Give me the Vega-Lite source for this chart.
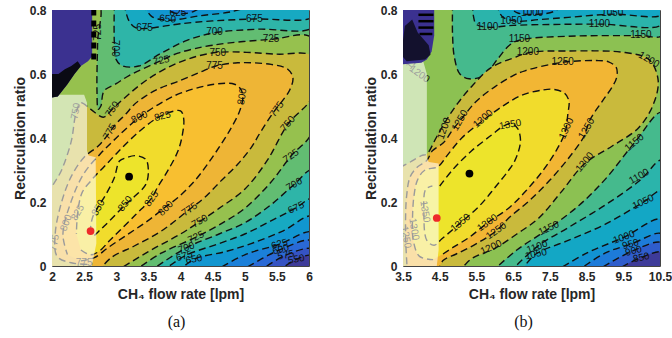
{
"$schema":"https://vega.github.io/schema/vega-lite/v6.json",
"padding":{"left":12,"top":3,"right":2,"bottom":4},
"spacing":50,
"config":{
 "view":{"stroke":"#444","strokeWidth":1},
 "axis":{"grid":false,"ticks":false,"domain":false,"labelFont":"Liberation Sans","labelFontSize":12,"labelFontWeight":"bold","labelColor":"#262626","titleFont":"Liberation Sans","titleFontSize":14,"titleFontWeight":"bold","titleColor":"#262626","labelOverlap":false,"labelFlush":false},
 "axisX":{"labelPadding":5,"titlePadding":5},
 "axisY":{"labelPadding":6,"titlePadding":2}
},
"resolve":{"scale":{"color":"independent"}},
"datasets":{
"pa":[
{"s":"base","b":"a700","x":1.95,"y":-0.02},{"s":"base","b":"a700","x":6.05,"y":-0.02},{"s":"base","b":"a700","x":6.05,"y":0.82},{"s":"base","b":"a700","x":1.95,"y":0.82},
{"s":"t700","b":"a675","x":2.97,"y":0.82},{"s":"t700","b":"a675","x":2.97,"y":0.7},{"s":"t700","b":"a675","x":3.0,"y":0.645},{"s":"t700","b":"a675","x":3.1,"y":0.625},{"s":"t700","b":"a675","x":3.35,"y":0.625},{"s":"t700","b":"a675","x":3.7,"y":0.665},{"s":"t700","b":"a675","x":4.1,"y":0.705},{"s":"t700","b":"a675","x":4.53,"y":0.729},{"s":"t700","b":"a675","x":5.2,"y":0.74},{"s":"t700","b":"a675","x":6.05,"y":0.745},{"s":"t700","b":"a675","x":6.05,"y":0.82},
{"s":"u700","b":"a675","x":3.5,"y":-0.02},{"s":"u700","b":"a675","x":4.09,"y":0.057},{"s":"u700","b":"a675","x":4.6,"y":0.1},{"s":"u700","b":"a675","x":5.0,"y":0.135},{"s":"u700","b":"a675","x":5.4,"y":0.19},{"s":"u700","b":"a675","x":5.77,"y":0.255},{"s":"u700","b":"a675","x":6.05,"y":0.3},{"s":"u700","b":"a675","x":6.05,"y":-0.02},
{"s":"t675","b":"a650","x":3.12,"y":0.82},{"s":"t675","b":"a650","x":3.2,"y":0.765},{"s":"t675","b":"a650","x":3.3,"y":0.745},{"s":"t675","b":"a650","x":3.44,"y":0.742},{"s":"t675","b":"a650","x":3.7,"y":0.748},{"s":"t675","b":"a650","x":4.0,"y":0.757},{"s":"t675","b":"a650","x":4.5,"y":0.766},{"s":"t675","b":"a650","x":5.15,"y":0.772},{"s":"t675","b":"a650","x":6.05,"y":0.778},{"s":"t675","b":"a650","x":6.05,"y":0.82},
{"s":"u675","b":"a650","x":3.7,"y":-0.02},{"s":"u675","b":"a650","x":4.06,"y":0.031},{"s":"u675","b":"a650","x":4.6,"y":0.07},{"s":"u675","b":"a650","x":5.0,"y":0.1},{"s":"u675","b":"a650","x":5.4,"y":0.14},{"s":"u675","b":"a650","x":5.8,"y":0.182},{"s":"u675","b":"a650","x":6.05,"y":0.21},{"s":"u675","b":"a650","x":6.05,"y":-0.02},
{"s":"t650","b":"a625","x":3.42,"y":0.82},{"s":"t650","b":"a625","x":3.55,"y":0.78},{"s":"t650","b":"a625","x":3.8,"y":0.768},{"s":"t650","b":"a625","x":4.3,"y":0.782},{"s":"t650","b":"a625","x":4.8,"y":0.795},{"s":"t650","b":"a625","x":5.2,"y":0.82},
{"s":"u650","b":"a625","x":3.95,"y":-0.02},{"s":"u650","b":"a625","x":4.21,"y":0.021},{"s":"u650","b":"a625","x":4.7,"y":0.045},{"s":"u650","b":"a625","x":5.1,"y":0.07},{"s":"u650","b":"a625","x":5.6,"y":0.11},{"s":"u650","b":"a625","x":6.05,"y":0.155},{"s":"u650","b":"a625","x":6.05,"y":-0.02},
{"s":"t625","b":"a600","x":3.72,"y":0.82},{"s":"t625","b":"a600","x":3.85,"y":0.795},{"s":"t625","b":"a600","x":4.0,"y":0.788},{"s":"t625","b":"a600","x":4.2,"y":0.795},{"s":"t625","b":"a600","x":4.4,"y":0.82},
{"s":"u625","b":"a600","x":4.5,"y":-0.02},{"s":"u625","b":"a600","x":5.0,"y":0.035},{"s":"u625","b":"a600","x":5.54,"y":0.068},{"s":"u625","b":"a600","x":6.05,"y":0.105},{"s":"u625","b":"a600","x":6.05,"y":-0.02},
{"s":"u600","b":"a575","x":4.9,"y":-0.02},{"s":"u600","b":"a575","x":5.56,"y":0.052},{"s":"u600","b":"a575","x":6.05,"y":0.078},{"s":"u600","b":"a575","x":6.05,"y":-0.02},
{"s":"u575","b":"a550","x":5.2,"y":-0.02},{"s":"u575","b":"a550","x":5.64,"y":0.034},{"s":"u575","b":"a550","x":6.05,"y":0.052},{"s":"u575","b":"a550","x":6.05,"y":-0.02},
{"s":"u550","b":"a525","x":5.5,"y":-0.02},{"s":"u550","b":"a525","x":5.8,"y":0.021},{"s":"u550","b":"a525","x":6.05,"y":0.032},{"s":"u550","b":"a525","x":6.05,"y":-0.02},
{"s":"p725","b":"a725","x":3.25,"y":-0.02},{"s":"p725","b":"a725","x":3.7,"y":0.04},{"s":"p725","b":"a725","x":4.24,"y":0.09},{"s":"p725","b":"a725","x":4.7,"y":0.14},{"s":"p725","b":"a725","x":5.0,"y":0.18},{"s":"p725","b":"a725","x":5.4,"y":0.26},{"s":"p725","b":"a725","x":5.72,"y":0.344},{"s":"p725","b":"a725","x":6.05,"y":0.42},{"s":"p725","b":"a725","x":6.05,"y":0.712},{"s":"p725","b":"a725","x":5.41,"y":0.708},{"s":"p725","b":"a725","x":4.5,"y":0.69},{"s":"p725","b":"a725","x":3.96,"y":0.665},{"s":"p725","b":"a725","x":3.62,"y":0.635},{"s":"p725","b":"a725","x":3.2,"y":0.595},{"s":"p725","b":"a725","x":3.0,"y":0.57},{"s":"p725","b":"a725","x":2.81,"y":0.547},{"s":"p725","b":"a725","x":2.76,"y":0.5},{"s":"p725","b":"a725","x":2.72,"y":0.49},{"s":"p725","b":"a725","x":2.7,"y":0.55},{"s":"p725","b":"a725","x":2.71,"y":0.7},{"s":"p725","b":"a725","x":2.72,"y":0.82},{"s":"p725","b":"a725","x":1.95,"y":0.82},{"s":"p725","b":"a725","x":1.95,"y":-0.02},
{"s":"p750","b":"a750","x":2.97,"y":-0.02},{"s":"p750","b":"a750","x":3.5,"y":0.045},{"s":"p750","b":"a750","x":4.0,"y":0.1},{"s":"p750","b":"a750","x":4.27,"y":0.135},{"s":"p750","b":"a750","x":4.6,"y":0.18},{"s":"p750","b":"a750","x":5.0,"y":0.24},{"s":"p750","b":"a750","x":5.35,"y":0.33},{"s":"p750","b":"a750","x":5.67,"y":0.443},{"s":"p750","b":"a750","x":6.05,"y":0.53},{"s":"p750","b":"a750","x":6.05,"y":0.655},{"s":"p750","b":"a750","x":5.5,"y":0.662},{"s":"p750","b":"a750","x":4.55,"y":0.667},{"s":"p750","b":"a750","x":4.0,"y":0.638},{"s":"p750","b":"a750","x":3.5,"y":0.585},{"s":"p750","b":"a750","x":3.1,"y":0.52},{"s":"p750","b":"a750","x":2.94,"y":0.49},{"s":"p750","b":"a750","x":2.8,"y":0.465},{"s":"p750","b":"a750","x":2.6,"y":0.49},{"s":"p750","b":"a750","x":2.45,"y":0.51},{"s":"p750","b":"a750","x":2.37,"y":0.474},{"s":"p750","b":"a750","x":2.3,"y":0.39},{"s":"p750","b":"a750","x":2.15,"y":0.3},{"s":"p750","b":"a750","x":1.95,"y":0.22},{"s":"p750","b":"a750","x":1.95,"y":-0.02},
{"s":"p775","b":"a775","x":2.71,"y":-0.02},{"s":"p775","b":"a775","x":2.92,"y":0.026},{"s":"p775","b":"a775","x":3.28,"y":0.0625},{"s":"p775","b":"a775","x":3.7,"y":0.109},{"s":"p775","b":"a775","x":4.14,"y":0.177},{"s":"p775","b":"a775","x":4.37,"y":0.213},{"s":"p775","b":"a775","x":4.63,"y":0.266},{"s":"p775","b":"a775","x":4.89,"y":0.318},{"s":"p775","b":"a775","x":5.1,"y":0.37},{"s":"p775","b":"a775","x":5.25,"y":0.42},{"s":"p775","b":"a775","x":5.46,"y":0.484},{"s":"p775","b":"a775","x":5.6,"y":0.52},{"s":"p775","b":"a775","x":5.7,"y":0.55},{"s":"p775","b":"a775","x":5.75,"y":0.588},{"s":"p775","b":"a775","x":5.67,"y":0.615},{"s":"p775","b":"a775","x":5.41,"y":0.63},{"s":"p775","b":"a775","x":4.89,"y":0.635},{"s":"p775","b":"a775","x":4.55,"y":0.625},{"s":"p775","b":"a775","x":4.3,"y":0.605},{"s":"p775","b":"a775","x":4.0,"y":0.58},{"s":"p775","b":"a775","x":3.64,"y":0.552},{"s":"p775","b":"a775","x":3.45,"y":0.53},{"s":"p775","b":"a775","x":3.28,"y":0.505},{"s":"p775","b":"a775","x":3.15,"y":0.475},{"s":"p775","b":"a775","x":3.0,"y":0.445},{"s":"p775","b":"a775","x":2.85,"y":0.405},{"s":"p775","b":"a775","x":2.72,"y":0.375},{"s":"p775","b":"a775","x":2.5,"y":0.34},{"s":"p775","b":"a775","x":2.3,"y":0.28},{"s":"p775","b":"a775","x":2.15,"y":0.2},{"s":"p775","b":"a775","x":2.05,"y":0.1},{"s":"p775","b":"a775","x":2.08,"y":0.03},{"s":"p775","b":"a775","x":2.3,"y":0.01},{"s":"p775","b":"a775","x":2.6,"y":0.005},
{"s":"p800","b":"a800","x":2.45,"y":0.016},{"s":"p800","b":"a800","x":2.66,"y":0.026},{"s":"p800","b":"a800","x":2.87,"y":0.057},{"s":"p800","b":"a800","x":3.18,"y":0.099},{"s":"p800","b":"a800","x":3.49,"y":0.141},{"s":"p800","b":"a800","x":3.75,"y":0.182},{"s":"p800","b":"a800","x":3.96,"y":0.214},{"s":"p800","b":"a800","x":4.22,"y":0.266},{"s":"p800","b":"a800","x":4.42,"y":0.318},{"s":"p800","b":"a800","x":4.63,"y":0.38},{"s":"p800","b":"a800","x":4.79,"y":0.432},{"s":"p800","b":"a800","x":4.92,"y":0.484},{"s":"p800","b":"a800","x":4.97,"y":0.526},{"s":"p800","b":"a800","x":4.94,"y":0.552},{"s":"p800","b":"a800","x":4.84,"y":0.568},{"s":"p800","b":"a800","x":4.53,"y":0.568},{"s":"p800","b":"a800","x":4.0,"y":0.54},{"s":"p800","b":"a800","x":3.7,"y":0.51},{"s":"p800","b":"a800","x":3.36,"y":0.465},{"s":"p800","b":"a800","x":3.0,"y":0.4},{"s":"p800","b":"a800","x":2.75,"y":0.35},{"s":"p800","b":"a800","x":2.5,"y":0.29},{"s":"p800","b":"a800","x":2.3,"y":0.203},{"s":"p800","b":"a800","x":2.17,"y":0.099},{"s":"p800","b":"a800","x":2.24,"y":0.036},
{"s":"p825","b":"a825","x":2.45,"y":0.05},{"s":"p825","b":"a825","x":2.6,"y":0.035},{"s":"p825","b":"a825","x":2.74,"y":0.047},{"s":"p825","b":"a825","x":2.89,"y":0.078},{"s":"p825","b":"a825","x":3.0,"y":0.1},{"s":"p825","b":"a825","x":3.3,"y":0.16},{"s":"p825","b":"a825","x":3.55,"y":0.212},{"s":"p825","b":"a825","x":3.64,"y":0.245},{"s":"p825","b":"a825","x":3.8,"y":0.297},{"s":"p825","b":"a825","x":3.96,"y":0.359},{"s":"p825","b":"a825","x":4.03,"y":0.411},{"s":"p825","b":"a825","x":4.05,"y":0.46},{"s":"p825","b":"a825","x":4.0,"y":0.485},{"s":"p825","b":"a825","x":3.8,"y":0.478},{"s":"p825","b":"a825","x":3.6,"y":0.458},{"s":"p825","b":"a825","x":3.3,"y":0.41},{"s":"p825","b":"a825","x":3.02,"y":0.355},{"s":"p825","b":"a825","x":2.81,"y":0.31},{"s":"p825","b":"a825","x":2.71,"y":0.29},{"s":"p825","b":"a825","x":2.6,"y":0.265},{"s":"p825","b":"a825","x":2.47,"y":0.23},{"s":"p825","b":"a825","x":2.4,"y":0.167},{"s":"p825","b":"a825","x":2.38,"y":0.1},
{"s":"p850","b":"a850","x":2.66,"y":0.095},{"s":"p850","b":"a850","x":2.76,"y":0.115},{"s":"p850","b":"a850","x":2.89,"y":0.14},{"s":"p850","b":"a850","x":3.15,"y":0.193},{"s":"p850","b":"a850","x":3.3,"y":0.22},{"s":"p850","b":"a850","x":3.46,"y":0.255},{"s":"p850","b":"a850","x":3.5,"y":0.297},{"s":"p850","b":"a850","x":3.46,"y":0.333},{"s":"p850","b":"a850","x":3.3,"y":0.345},{"s":"p850","b":"a850","x":3.15,"y":0.338},{"s":"p850","b":"a850","x":3.05,"y":0.328},{"s":"p850","b":"a850","x":2.97,"y":0.276},{"s":"p850","b":"a850","x":2.84,"y":0.224},{"s":"p850","b":"a850","x":2.71,"y":0.182},{"s":"p850","b":"a850","x":2.63,"y":0.151},{"s":"p850","b":"a850","x":2.6,"y":0.12}
],
"la":[
{"t":"625","x":3.96,"y":0.792,"a":0},{"t":"650","x":3.8,"y":0.772,"a":5},{"t":"675","x":3.44,"y":0.745,"a":0},{"t":"675","x":5.15,"y":0.773,"a":0},
{"t":"700","x":4.53,"y":0.73,"a":0},{"t":"700","x":2.985,"y":0.68,"a":90},{"t":"725","x":5.41,"y":0.709,"a":0},{"t":"725","x":3.7,"y":0.642,"a":-12},{"t":"725","x":2.715,"y":0.73,"a":-90},
{"t":"750","x":4.58,"y":0.667,"a":0},{"t":"750","x":2.94,"y":0.49,"a":-55},{"t":"750","x":5.67,"y":0.445,"a":-50},{"t":"750","x":4.3,"y":0.14,"a":-30},
{"t":"775","x":4.53,"y":0.625,"a":0},{"t":"775","x":2.9,"y":0.42,"a":-60},{"t":"775","x":5.5,"y":0.49,"a":-55},{"t":"775","x":4.14,"y":0.177,"a":-35},
{"t":"800","x":3.36,"y":0.465,"a":-25},{"t":"800","x":4.96,"y":0.53,"a":-80},{"t":"800","x":3.77,"y":0.18,"a":-45},
{"t":"825","x":3.72,"y":0.468,"a":-15},{"t":"825","x":3.55,"y":0.21,"a":-55},
{"t":"850","x":2.72,"y":0.182,"a":-60},{"t":"850","x":3.14,"y":0.195,"a":-50},
{"t":"725","x":4.24,"y":0.09,"a":-25},{"t":"700","x":4.09,"y":0.057,"a":-20},{"t":"675","x":4.06,"y":0.031,"a":-15},{"t":"650","x":4.21,"y":0.021,"a":-10},
{"t":"725","x":5.72,"y":0.344,"a":-35},{"t":"700","x":5.77,"y":0.255,"a":-30},{"t":"675","x":5.8,"y":0.182,"a":-25},{"t":"625","x":5.54,"y":0.068,"a":-15},{"t":"600","x":5.56,"y":0.052,"a":-15},{"t":"575","x":5.64,"y":0.034,"a":-12},{"t":"550","x":5.8,"y":0.021,"a":-10},
{"t":"750","x":2.37,"y":0.484,"a":-80},{"t":"775","x":2.04,"y":0.073,"a":-80},{"t":"775","x":2.5,"y":0.008,"a":0},{"t":"800","x":2.22,"y":0.135,"a":-70},{"t":"825","x":2.4,"y":0.167,"a":-60}
],
"ova":[{"x":1.95,"y":-0.02},{"x":1.95,"y":0.535},{"x":2.5,"y":0.535},{"x":2.545,"y":0.51},{"x":2.545,"y":0.36},{"x":2.57,"y":0.345},{"x":2.68,"y":0.34},{"x":2.69,"y":0.07},{"x":2.6,"y":-0.02}],
"nva":[{"x":1.95,"y":0.82},{"x":2.625,"y":0.82},{"x":2.625,"y":0.655},{"x":2.56,"y":0.64},{"x":2.45,"y":0.625},{"x":2.35,"y":0.6},{"x":2.24,"y":0.568},{"x":2.09,"y":0.53},{"x":1.95,"y":0.525}],
"bka":[{"x":1.95,"y":0.525},{"x":2.09,"y":0.53},{"x":2.24,"y":0.568},{"x":2.35,"y":0.6},{"x":2.45,"y":0.625},{"x":2.4,"y":0.64},{"x":2.3,"y":0.625},{"x":2.2,"y":0.615},{"x":2.1,"y":0.6},{"x":1.95,"y":0.6}],
"rka":[{"x":2.65,"y":0.645,"y2":0.8}],
"dka":[{"x":3.2,"y":0.279}],
"dra":[{"x":2.6,"y":0.109}],
"pb":[
{"s":"base","b":"b1150","x":3.45,"y":-0.02},{"s":"base","b":"b1150","x":10.55,"y":-0.02},{"s":"base","b":"b1150","x":10.55,"y":0.82},{"s":"base","b":"b1150","x":3.45,"y":0.82},
{"s":"t1150","b":"b1100","x":4.85,"y":0.82},{"s":"t1150","b":"b1100","x":4.85,"y":0.72},{"s":"t1150","b":"b1100","x":4.9,"y":0.652},{"s":"t1150","b":"b1100","x":5.05,"y":0.6},{"s":"t1150","b":"b1100","x":5.3,"y":0.585},{"s":"t1150","b":"b1100","x":5.7,"y":0.595},{"s":"t1150","b":"b1100","x":6.1,"y":0.65},{"s":"t1150","b":"b1100","x":6.4,"y":0.69},{"s":"t1150","b":"b1100","x":6.67,"y":0.706},{"s":"t1150","b":"b1100","x":8.0,"y":0.718},{"s":"t1150","b":"b1100","x":9.98,"y":0.72},{"s":"t1150","b":"b1100","x":10.55,"y":0.72},{"s":"t1150","b":"b1100","x":10.55,"y":0.82},
{"s":"u1150","b":"b1100","x":5.9,"y":-0.02},{"s":"u1150","b":"b1100","x":6.6,"y":0.05},{"s":"u1150","b":"b1100","x":7.46,"y":0.116},{"s":"u1150","b":"b1100","x":8.3,"y":0.19},{"s":"u1150","b":"b1100","x":9.0,"y":0.27},{"s":"u1150","b":"b1100","x":9.81,"y":0.386},{"s":"u1150","b":"b1100","x":10.55,"y":0.48},{"s":"u1150","b":"b1100","x":10.55,"y":-0.02},
{"s":"t1100","b":"b1050","x":5.4,"y":0.82},{"s":"t1100","b":"b1050","x":5.42,"y":0.78},{"s":"t1100","b":"b1050","x":5.5,"y":0.755},{"s":"t1100","b":"b1050","x":5.83,"y":0.746},{"s":"t1100","b":"b1050","x":6.5,"y":0.752},{"s":"t1100","b":"b1050","x":8.85,"y":0.756},{"s":"t1100","b":"b1050","x":10.55,"y":0.755},{"s":"t1100","b":"b1050","x":10.55,"y":0.82},
{"s":"u1100","b":"b1050","x":6.4,"y":-0.02},{"s":"u1100","b":"b1050","x":7.18,"y":0.063},{"s":"u1100","b":"b1050","x":8.0,"y":0.12},{"s":"u1100","b":"b1050","x":9.0,"y":0.19},{"s":"u1100","b":"b1050","x":9.95,"y":0.267},{"s":"u1100","b":"b1050","x":10.55,"y":0.33},{"s":"u1100","b":"b1050","x":10.55,"y":-0.02},
{"s":"t1050","b":"b1000","x":6.05,"y":0.82},{"s":"t1050","b":"b1000","x":6.2,"y":0.78},{"s":"t1050","b":"b1000","x":6.58,"y":0.765},{"s":"t1050","b":"b1000","x":7.2,"y":0.77},{"s":"t1050","b":"b1000","x":8.0,"y":0.777},{"s":"t1050","b":"b1000","x":9.2,"y":0.787},{"s":"t1050","b":"b1000","x":10.55,"y":0.785},{"s":"t1050","b":"b1000","x":10.55,"y":0.82},
{"s":"u1050","b":"b1000","x":6.7,"y":-0.02},{"s":"u1050","b":"b1000","x":7.09,"y":0.035},{"s":"u1050","b":"b1000","x":8.0,"y":0.08},{"s":"u1050","b":"b1000","x":9.0,"y":0.13},{"s":"u1050","b":"b1000","x":10.04,"y":0.199},{"s":"u1050","b":"b1000","x":10.55,"y":0.235},{"s":"u1050","b":"b1000","x":10.55,"y":-0.02},
{"s":"t1000","b":"b950","x":6.3,"y":0.82},{"s":"t1000","b":"b950","x":6.6,"y":0.792},{"s":"t1000","b":"b950","x":7.05,"y":0.786},{"s":"t1000","b":"b950","x":7.6,"y":0.795},{"s":"t1000","b":"b950","x":7.9,"y":0.82},
{"s":"u1000","b":"b950","x":7.6,"y":-0.02},{"s":"u1000","b":"b950","x":8.5,"y":0.04},{"s":"u1000","b":"b950","x":9.5,"y":0.089},{"s":"u1000","b":"b950","x":10.55,"y":0.145},{"s":"u1000","b":"b950","x":10.55,"y":-0.02},
{"s":"u950","b":"b900","x":8.2,"y":-0.02},{"s":"u950","b":"b900","x":9.0,"y":0.04},{"s":"u950","b":"b900","x":9.72,"y":0.069},{"s":"u950","b":"b900","x":10.55,"y":0.1},{"s":"u950","b":"b900","x":10.55,"y":-0.02},
{"s":"u900","b":"b850","x":8.7,"y":-0.02},{"s":"u900","b":"b850","x":9.77,"y":0.048},{"s":"u900","b":"b850","x":10.55,"y":0.072},{"s":"u900","b":"b850","x":10.55,"y":-0.02},
{"s":"u850","b":"b800","x":9.2,"y":-0.02},{"s":"u850","b":"b800","x":9.99,"y":0.027},{"s":"u850","b":"b800","x":10.55,"y":0.042},{"s":"u850","b":"b800","x":10.55,"y":-0.02},
{"s":"p1200","b":"b1200","x":3.45,"y":-0.02},{"s":"p1200","b":"b1200","x":4.9,"y":-0.02},{"s":"p1200","b":"b1200","x":5.4,"y":0.025},{"s":"p1200","b":"b1200","x":6.0,"y":0.055},{"s":"p1200","b":"b1200","x":6.6,"y":0.1},{"s":"p1200","b":"b1200","x":7.2,"y":0.15},{"s":"p1200","b":"b1200","x":7.8,"y":0.23},{"s":"p1200","b":"b1200","x":8.45,"y":0.32},{"s":"p1200","b":"b1200","x":9.2,"y":0.375},{"s":"p1200","b":"b1200","x":9.9,"y":0.43},{"s":"p1200","b":"b1200","x":10.3,"y":0.5},{"s":"p1200","b":"b1200","x":10.45,"y":0.58},{"s":"p1200","b":"b1200","x":10.2,"y":0.645},{"s":"p1200","b":"b1200","x":9.55,"y":0.667},{"s":"p1200","b":"b1200","x":8.0,"y":0.672},{"s":"p1200","b":"b1200","x":7.0,"y":0.668},{"s":"p1200","b":"b1200","x":6.5,"y":0.65},{"s":"p1200","b":"b1200","x":5.9,"y":0.62},{"s":"p1200","b":"b1200","x":5.4,"y":0.565},{"s":"p1200","b":"b1200","x":5.0,"y":0.51},{"s":"p1200","b":"b1200","x":4.65,"y":0.45},{"s":"p1200","b":"b1200","x":4.4,"y":0.4},{"s":"p1200","b":"b1200","x":4.15,"y":0.35},{"s":"p1200","b":"b1200","x":4.0,"y":0.345},{"s":"p1200","b":"b1200","x":3.7,"y":0.325},{"s":"p1200","b":"b1200","x":3.45,"y":0.31},
{"s":"p1250","b":"b1250","x":4.45,"y":-0.02},{"s":"p1250","b":"b1250","x":4.59,"y":0.017},{"s":"p1250","b":"b1250","x":4.95,"y":0.0375},{"s":"p1250","b":"b1250","x":5.49,"y":0.069},{"s":"p1250","b":"b1250","x":6.04,"y":0.11},{"s":"p1250","b":"b1250","x":6.4,"y":0.152},{"s":"p1250","b":"b1250","x":6.94,"y":0.204},{"s":"p1250","b":"b1250","x":7.49,"y":0.267},{"s":"p1250","b":"b1250","x":8.03,"y":0.34},{"s":"p1250","b":"b1250","x":8.44,"y":0.407},{"s":"p1250","b":"b1250","x":8.58,"y":0.454},{"s":"p1250","b":"b1250","x":8.94,"y":0.517},{"s":"p1250","b":"b1250","x":9.2,"y":0.56},{"s":"p1250","b":"b1250","x":9.32,"y":0.59},{"s":"p1250","b":"b1250","x":9.31,"y":0.62},{"s":"p1250","b":"b1250","x":9.1,"y":0.638},{"s":"p1250","b":"b1250","x":8.76,"y":0.642},{"s":"p1250","b":"b1250","x":7.82,"y":0.636},{"s":"p1250","b":"b1250","x":6.82,"y":0.61},{"s":"p1250","b":"b1250","x":6.5,"y":0.595},{"s":"p1250","b":"b1250","x":6.0,"y":0.56},{"s":"p1250","b":"b1250","x":5.5,"y":0.515},{"s":"p1250","b":"b1250","x":5.13,"y":0.465},{"s":"p1250","b":"b1250","x":4.85,"y":0.425},{"s":"p1250","b":"b1250","x":4.6,"y":0.385},{"s":"p1250","b":"b1250","x":4.3,"y":0.36},{"s":"p1250","b":"b1250","x":4.15,"y":0.33},{"s":"p1250","b":"b1250","x":3.9,"y":0.31},{"s":"p1250","b":"b1250","x":3.7,"y":0.28},{"s":"p1250","b":"b1250","x":3.6,"y":0.22},{"s":"p1250","b":"b1250","x":3.57,"y":0.1},{"s":"p1250","b":"b1250","x":3.62,"y":-0.02},
{"s":"p1300","b":"b1300","x":4.59,"y":0.0375},{"s":"p1300","b":"b1300","x":4.86,"y":0.058},{"s":"p1300","b":"b1300","x":5.31,"y":0.09},{"s":"p1300","b":"b1300","x":5.8,"y":0.135},{"s":"p1300","b":"b1300","x":6.4,"y":0.183},{"s":"p1300","b":"b1300","x":6.85,"y":0.235},{"s":"p1300","b":"b1300","x":7.31,"y":0.298},{"s":"p1300","b":"b1300","x":7.67,"y":0.36},{"s":"p1300","b":"b1300","x":7.92,"y":0.42},{"s":"p1300","b":"b1300","x":7.99,"y":0.475},{"s":"p1300","b":"b1300","x":8.02,"y":0.515},{"s":"p1300","b":"b1300","x":7.9,"y":0.54},{"s":"p1300","b":"b1300","x":7.6,"y":0.552},{"s":"p1300","b":"b1300","x":7.3,"y":0.55},{"s":"p1300","b":"b1300","x":6.76,"y":0.535},{"s":"p1300","b":"b1300","x":6.22,"y":0.5},{"s":"p1300","b":"b1300","x":5.68,"y":0.455},{"s":"p1300","b":"b1300","x":5.1,"y":0.4},{"s":"p1300","b":"b1300","x":4.7,"y":0.345},{"s":"p1300","b":"b1300","x":4.45,"y":0.31},{"s":"p1300","b":"b1300","x":4.1,"y":0.3},{"s":"p1300","b":"b1300","x":3.9,"y":0.27},{"s":"p1300","b":"b1300","x":3.8,"y":0.22},{"s":"p1300","b":"b1300","x":3.76,"y":0.15},{"s":"p1300","b":"b1300","x":3.78,"y":0.08},{"s":"p1300","b":"b1300","x":3.95,"y":0.03},{"s":"p1300","b":"b1300","x":4.32,"y":0.02},
{"s":"p1350","b":"b1350","x":4.5,"y":0.25},{"s":"p1350","b":"b1350","x":4.87,"y":0.303},{"s":"p1350","b":"b1350","x":5.37,"y":0.36},{"s":"p1350","b":"b1350","x":5.92,"y":0.41},{"s":"p1350","b":"b1350","x":6.2,"y":0.435},{"s":"p1350","b":"b1350","x":6.45,"y":0.445},{"s":"p1350","b":"b1350","x":6.62,"y":0.43},{"s":"p1350","b":"b1350","x":6.7,"y":0.39},{"s":"p1350","b":"b1350","x":6.55,"y":0.33},{"s":"p1350","b":"b1350","x":6.37,"y":0.298},{"s":"p1350","b":"b1350","x":6.01,"y":0.246},{"s":"p1350","b":"b1350","x":5.6,"y":0.19},{"s":"p1350","b":"b1350","x":5.07,"y":0.135},{"s":"p1350","b":"b1350","x":4.56,"y":0.085},{"s":"p1350","b":"b1350","x":4.35,"y":0.065},{"s":"p1350","b":"b1350","x":4.15,"y":0.08},{"s":"p1350","b":"b1350","x":4.07,"y":0.17},{"s":"p1350","b":"b1350","x":4.12,"y":0.24},{"s":"p1350","b":"b1350","x":4.3,"y":0.25}
],
"lb":[
{"t":"1000","x":7.02,"y":0.79,"a":0},{"t":"1050","x":6.45,"y":0.766,"a":0},{"t":"1050","x":9.2,"y":0.79,"a":0},{"t":"1100","x":5.8,"y":0.748,"a":0},{"t":"1100","x":8.85,"y":0.757,"a":0},{"t":"1150","x":6.67,"y":0.708,"a":0},{"t":"1150","x":9.98,"y":0.721,"a":0},{"t":"1200","x":6.9,"y":0.668,"a":0},{"t":"1200","x":10.2,"y":0.645,"a":30},{"t":"1250","x":7.85,"y":0.637,"a":0},
{"t":"1200","x":4.62,"y":0.43,"a":-70},{"t":"1250","x":5.05,"y":0.455,"a":-60},{"t":"1300","x":5.68,"y":0.46,"a":-40},{"t":"1350","x":6.42,"y":0.442,"a":-10},
{"t":"1300","x":7.95,"y":0.43,"a":-65},{"t":"1250","x":8.5,"y":0.43,"a":-60},{"t":"1200","x":8.45,"y":0.325,"a":-50},{"t":"1150","x":9.8,"y":0.386,"a":-40},{"t":"1100","x":9.93,"y":0.28,"a":-30},{"t":"1050","x":10.04,"y":0.2,"a":-25},
{"t":"1350","x":5.07,"y":0.135,"a":-40},{"t":"1300","x":5.8,"y":0.135,"a":-35},{"t":"1250","x":6.04,"y":0.11,"a":-35},{"t":"1200","x":5.9,"y":0.058,"a":-25},{"t":"1150","x":7.47,"y":0.118,"a":-25},{"t":"1100","x":7.15,"y":0.06,"a":-20},{"t":"1050","x":7.12,"y":0.037,"a":-12},{"t":"1000","x":9.52,"y":0.09,"a":-20},{"t":"950","x":9.7,"y":0.068,"a":-15},{"t":"900","x":9.78,"y":0.047,"a":-15},{"t":"850","x":9.99,"y":0.026,"a":-12},
{"t":"1350","x":4.1,"y":0.17,"a":80},{"t":"1300","x":3.8,"y":0.115,"a":80},{"t":"1250","x":3.58,"y":0.09,"a":80},{"t":"1200","x":3.95,"y":0.6,"a":35},{"t":"1150","x":3.82,"y":0.645,"a":-50}
],
"ovb":[{"x":3.45,"y":-0.02},{"x":3.45,"y":0.64},{"x":4.05,"y":0.64},{"x":4.15,"y":0.6},{"x":4.15,"y":0.34},{"x":4.2,"y":0.325},{"x":4.47,"y":0.32},{"x":4.47,"y":0.05},{"x":4.4,"y":-0.02}],
"nvb":[{"x":3.45,"y":0.82},{"x":4.35,"y":0.82},{"x":4.35,"y":0.72},{"x":4.28,"y":0.67},{"x":4.15,"y":0.645},{"x":4.0,"y":0.635},{"x":3.45,"y":0.63}],
"bkb":[{"x":3.45,"y":0.66},{"x":3.55,"y":0.75},{"x":3.75,"y":0.77},{"x":3.9,"y":0.73},{"x":4.2,"y":0.69},{"x":4.25,"y":0.66},{"x":4.1,"y":0.645},{"x":3.6,"y":0.64}],
"rkb":[{"x":3.92,"x2":4.33,"y":0.785},{"x":3.92,"x2":4.33,"y":0.765},{"x":3.92,"x2":4.33,"y":0.745},{"x":3.95,"x2":4.3,"y":0.725}],
"dkb":[{"x":5.31,"y":0.289}],
"drb":[{"x":4.42,"y":0.15}]
},
"hconcat":[
{
"width":257,"height":256,
"title":{"text":"(a)","orient":"bottom","anchor":"middle","frame":"group","font":"Liberation Serif","fontSize":16,"fontWeight":"normal","color":"#111","offset":13,"dx":-4},
"encoding":{
 "x":{"field":"x","type":"quantitative","scale":{"domain":[2,6],"nice":false,"zero":false},"axis":{"values":[2,2.5,3,3.5,4,4.5,5,5.5,6],"format":".1~f","title":"CH₄ flow rate [lpm]","zindex":1}},
 "y":{"field":"y","type":"quantitative","scale":{"domain":[0,0.8],"nice":false,"zero":false},"axis":{"values":[0,0.2,0.4,0.6,0.8],"format":".1~f","title":"Recirculation ratio","zindex":1}}
},
"layer":[
 {"data":{"name":"pa"},"mark":{"type":"line","filled":true,"stroke":"#111","strokeWidth":1.4,"strokeDash":[7,4],"clip":true,"interpolate":"catmull-rom"},
  "encoding":{"color":{"field":"b","type":"nominal","scale":{"domain":["a525","a550","a575","a600","a625","a650","a675","a700","a725","a750","a775","a800","a825","a850"],"range":["#3e3b99","#3553c3","#2a69d6","#1b80d9","#1196d0","#17a9c2","#2eb5a8","#62bd72","#96c14e","#c9ba3c","#eeb536","#f8bf30","#f1dc2c","#ede42b"]},"legend":null},"detail":{"field":"s"},"order":{"value":null}}},
 {"data":{"name":"la"},"mark":{"type":"text","font":"Liberation Sans","fontSize":10,"color":"#111","clip":true},"encoding":{"text":{"field":"t"},"angle":{"field":"a","type":"quantitative","scale":null}}},
 {"data":{"name":"ova"},"mark":{"type":"line","filled":true,"color":"#ffffff","fillOpacity":0.58,"strokeWidth":0,"clip":true},"encoding":{"order":{"value":null}}},
 {"data":{"name":"nva"},"mark":{"type":"line","filled":true,"color":"#3b3190","strokeWidth":0,"clip":true},"encoding":{"order":{"value":null}}},
 {"data":{"name":"bka"},"mark":{"type":"line","filled":true,"color":"#0a0a14","strokeWidth":0,"clip":true},"encoding":{"order":{"value":null}}},
 {"data":{"name":"rka"},"mark":{"type":"rule","color":"#000","strokeWidth":5,"strokeDash":[6,5]},"encoding":{"y2":{"field":"y2"}}},
 {"data":{"name":"dka"},"mark":{"type":"circle","color":"#000","size":60,"opacity":1},"encoding":{}},
 {"data":{"name":"dra"},"mark":{"type":"circle","color":"#ee2a2a","size":60,"opacity":1},"encoding":{}}
]
},
{
"width":257,"height":256,
"title":{"text":"(b)","orient":"bottom","anchor":"middle","frame":"group","font":"Liberation Serif","fontSize":16,"fontWeight":"normal","color":"#111","offset":13,"dx":-8},
"encoding":{
 "x":{"field":"x","type":"quantitative","scale":{"domain":[3.5,10.5],"nice":false,"zero":false},"axis":{"values":[3.5,4.5,5.5,6.5,7.5,8.5,9.5,10.5],"format":".1~f","title":"CH₄ flow rate [lpm]","zindex":1}},
 "y":{"field":"y","type":"quantitative","scale":{"domain":[0,0.8],"nice":false,"zero":false},"axis":{"values":[0,0.2,0.4,0.6,0.8],"format":".1~f","title":"Recirculation ratio","zindex":1}}
},
"layer":[
 {"data":{"name":"pb"},"mark":{"type":"line","filled":true,"stroke":"#111","strokeWidth":1.4,"strokeDash":[7,4],"clip":true,"interpolate":"catmull-rom"},
  "encoding":{"color":{"field":"b","type":"nominal","scale":{"domain":["b800","b850","b900","b950","b1000","b1050","b1100","b1150","b1200","b1250","b1300","b1350"],"range":["#3e3b99","#2f5dcc","#1d7bd9","#1293d2","#13a7c5","#2bb4ab","#45ba8d","#8cc152","#c9ba3c","#f2b634","#f1dc2c","#ede42b"]},"legend":null},"detail":{"field":"s"},"order":{"value":null}}},
 {"data":{"name":"lb"},"mark":{"type":"text","font":"Liberation Sans","fontSize":10,"color":"#111","clip":true},"encoding":{"text":{"field":"t"},"angle":{"field":"a","type":"quantitative","scale":null}}},
 {"data":{"name":"ovb"},"mark":{"type":"line","filled":true,"color":"#ffffff","fillOpacity":0.58,"strokeWidth":0,"clip":true},"encoding":{"order":{"value":null}}},
 {"data":{"name":"nvb"},"mark":{"type":"line","filled":true,"color":"#3b3190","strokeWidth":0,"clip":true},"encoding":{"order":{"value":null}}},
 {"data":{"name":"bkb"},"mark":{"type":"line","filled":true,"color":"#0a0a14","fillOpacity":0.8,"strokeWidth":0,"clip":true},"encoding":{"order":{"value":null}}},
 {"data":{"name":"rkb"},"mark":{"type":"rule","color":"#000","strokeWidth":2.5},"encoding":{"x2":{"field":"x2"}}},
 {"data":{"name":"dkb"},"mark":{"type":"circle","color":"#000","size":60,"opacity":1},"encoding":{}},
 {"data":{"name":"drb"},"mark":{"type":"circle","color":"#ee2a2a","size":60,"opacity":1},"encoding":{}}
]
}
]
}
